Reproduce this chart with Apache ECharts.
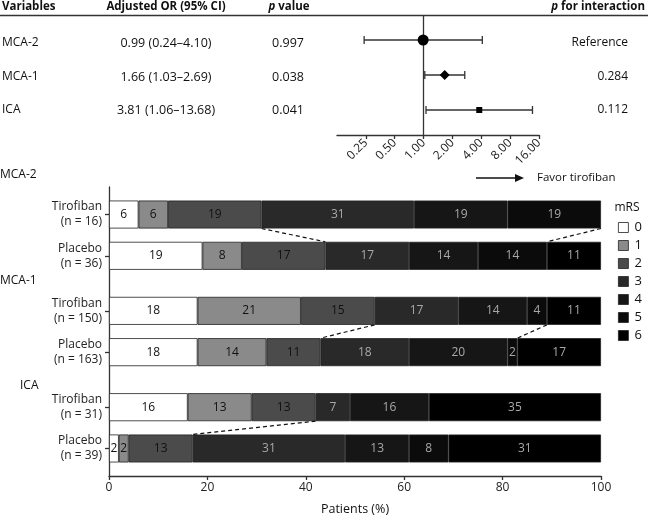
<!DOCTYPE html>
<html>
<head>
<meta charset="utf-8">
<script src="https://cdn.jsdelivr.net/npm/echarts@6/dist/echarts.min.js"></script>
<style>
html,body{margin:0;padding:0;background:#fff;}
#main{width:651px;height:521px;}
</style>
</head>
<body>
<div id="main"></div>
<script>
// ---------- Forest plot data ----------
const forestVars = ['MCA-2', 'MCA-1', 'ICA'];
const forestOR = [0.99, 1.66, 3.81];
const forestLo = [0.24, 1.03, 1.06];
const forestHi = [4.10, 2.69, 13.68];
const forestORText = ['0.99 (0.24–4.10)', '1.66 (1.03–2.69)', '3.81 (1.06–13.68)'];
const forestP = ['0.997', '0.038', '0.041'];
const forestPInter = ['Reference', '0.284', '0.112'];
const forestTicks = [0.25, 0.5, 1, 2, 4, 8, 16];

// ---------- Stacked bar data ----------
const groupNames = ['MCA-2', 'MCA-1', 'ICA'];
const barRows = ['Tirofiban\n(n = 16)', 'Placebo\n(n = 36)', 'Tirofiban\n(n = 150)', 'Placebo\n(n = 163)', 'Tirofiban\n(n = 31)', 'Placebo\n(n = 39)'];
const mrsNames = ['0', '1', '2', '3', '4', '5', '6'];
const mrs0 = [6, 19, 18, 18, 16, 2];
const mrs1 = [6, 8, 21, 14, 13, 2];
const mrs2 = [19, 17, 15, 11, 13, 13];
const mrs3 = [31, 17, 17, 18, 7, 31];
const mrs4 = [19, 14, 14, 20, 16, 13];
const mrs5 = [19, 14, 4, 2, 0, 8];
const mrs6 = [0, 11, 11, 17, 35, 31];
const xTicks = [0, 20, 40, 60, 80, 100];
// connectors: [tirofiban row, placebo row, type]
const connectors = [[0, 1, 'good'], [0, 1, 'alive'], [2, 3, 'good'], [2, 3, 'alive'], [4, 5, 'good']];

// ---------- layout / style ----------
const slotIndex = [2, 5, 9, 12, 16, 19];
const slotCount = 22;
const mrsColors = ['#ffffff', '#8a8a8a', '#4b4b4b', '#292929', '#161616', '#0b0b0b', '#000000'];
const mrsLabelColors = ['#111', '#111', '#111', '#a8a8a8', '#a8a8a8', '#a8a8a8', '#a8a8a8'];
const forestSymbols = ['circle', 'diamond', 'rect'];
const forestSizes = [11, 10, 6];
const FONT = '"Open Sans", sans-serif';
const BAR_W = 28;

const mrsAll = [mrs0, mrs1, mrs2, mrs3, mrs4, mrs5, mrs6];

const cats = new Array(slotCount).fill('');
barRows.forEach((r, i) => { cats[slotIndex[i]] = r; });

const barSeries = mrsAll.map((arr, k) => {
  const d = new Array(slotCount).fill('-');
  arr.forEach((v, i) => { d[slotIndex[i]] = v > 0 ? v : '-'; });
  return {
    name: mrsNames[k], type: 'bar', stack: 'mrs', xAxisIndex: 1, yAxisIndex: 1,
    barWidth: BAR_W, data: d,
    itemStyle: { color: mrsColors[k], borderColor: '#222', borderWidth: 0.8 },
    label: { show: true, position: 'inside', fontFamily: FONT, fontSize: 12, color: mrsLabelColors[k],
      formatter: p => (p.value > 0 ? String(p.value) : '') }
  };
});

const connData = connectors.map(c => {
  const a = c[0], b = c[1];
  const val = i => c[2] === 'good' ? (mrs0[i] + mrs1[i] + mrs2[i])
                                   : (mrs0[i] + mrs1[i] + mrs2[i] + mrs3[i] + mrs4[i] + mrs5[i]);
  return [val(a), val(b), slotIndex[a], slotIndex[b]];
});

const forestRows = forestVars.map((v, i) => i + 1);

const chart = echarts.init(document.getElementById('main'), null, { renderer: 'canvas' });

const HFONT = 'bold 11.5px ' + FONT;
const RFONT = '12.5px ' + FONT;
const HY = 7;
const graphics = [];
// header
graphics.push({ type: 'line', shape: { x1: 0, y1: 15.5, x2: 648, y2: 15.5 }, style: { stroke: '#333', lineWidth: 1.5 } });
graphics.push({ type: 'text', x: 2, y: HY, style: { text: 'Variables', font: HFONT, fill: '#111', textVerticalAlign: 'middle' } });
graphics.push({ type: 'text', x: 166, y: HY, style: { text: 'Adjusted OR (95% CI)', font: HFONT, fill: '#111', textAlign: 'center', textVerticalAlign: 'middle' } });
graphics.push({ type: 'text', x: 289, y: HY, style: { text: '{i|p} value', font: HFONT, fill: '#111', textAlign: 'center', textVerticalAlign: 'middle',
  rich: { i: { fontStyle: 'italic', fontWeight: 'bold', fontSize: 11.5, fontFamily: FONT } } } });
graphics.push({ type: 'text', x: 645, y: HY, style: { text: '{i|p} for interaction', font: HFONT, fill: '#111', textAlign: 'right', textVerticalAlign: 'middle',
  rich: { i: { fontStyle: 'italic', fontWeight: 'bold', fontSize: 11.5, fontFamily: FONT } } } });
const textRowsY = [43, 77, 110];
forestVars.forEach((v, i) => {
  const y = textRowsY[i];
  graphics.push({ type: 'text', x: 2, y: y, style: { text: v, font: '12px ' + FONT, fill: '#111', textVerticalAlign: 'middle' } });
  graphics.push({ type: 'text', x: 166, y: y, style: { text: forestORText[i], font: RFONT, fill: '#111', textAlign: 'center', textVerticalAlign: 'middle' } });
  graphics.push({ type: 'text', x: 288, y: y, style: { text: forestP[i], font: RFONT, fill: '#111', textAlign: 'center', textVerticalAlign: 'middle' } });
  graphics.push({ type: 'text', x: 628, y: y, style: { text: forestPInter[i], font: '12px ' + FONT, fill: '#111', textAlign: 'right', textVerticalAlign: 'middle' } });
});
// favor arrow
graphics.push({ type: 'line', shape: { x1: 476, y1: 178, x2: 516, y2: 178 }, style: { stroke: '#111', lineWidth: 1.3 } });
graphics.push({ type: 'polygon', shape: { points: [[515, 174], [524, 178], [515, 182]] }, style: { fill: '#111' } });
graphics.push({ type: 'text', x: 537, y: 178, style: { text: 'Favor tirofiban', font: '11.5px ' + FONT, fill: '#111', textVerticalAlign: 'middle' } });
// group labels
const groupPos = [[0, 175], [0, 281], [20, 386]];
groupNames.forEach((g, i) => {
  graphics.push({ type: 'text', x: groupPos[i][0], y: groupPos[i][1], style: { text: g, font: '12px ' + FONT, fill: '#111', textVerticalAlign: 'middle' } });
});
// legend title
graphics.push({ type: 'text', x: 627, y: 208, style: { text: 'mRS', font: '12px ' + FONT, fill: '#111', textAlign: 'center', textVerticalAlign: 'middle' } });

const option = {
  animation: false,
  backgroundColor: '#fff',
  textStyle: { fontFamily: FONT },
  grid: [
    { left: 337, top: 15, width: 202, height: 120 },
    { left: 109, top: 187, right: 50, bottom: 37 }
  ],
  legend: {
    data: mrsNames, orient: 'vertical', left: 613, top: 216,
    icon: 'rect', itemWidth: 10, itemHeight: 10, itemGap: 5,
    itemStyle: { borderColor: '#222', borderWidth: 0.8 },
    textStyle: { fontFamily: FONT, fontSize: 13, color: '#111', lineHeight: 13, padding: [0, 0, 0, 1] }
  },
  xAxis: [
    { type: 'log', logBase: 2, min: 0.125, max: 16, gridIndex: 0,
      axisLine: { show: true, lineStyle: { color: '#333', width: 1.3 } },
      axisTick: { show: true, customValues: forestTicks, length: 4, lineStyle: { color: '#333', width: 1.3 } },
      axisLabel: { customValues: forestTicks, rotate: 45, margin: 6, fontSize: 12, color: '#222', fontFamily: FONT,
        formatter: v => Number(v).toFixed(2) },
      splitLine: { show: false } },
    { type: 'value', min: 0, max: 100, interval: 20, gridIndex: 1,
      axisLine: { show: true, lineStyle: { color: '#333', width: 1.3 } },
      axisTick: { show: true, length: 4, lineStyle: { color: '#333', width: 1.3 } },
      axisLabel: { fontSize: 12, color: '#222', margin: 6, fontFamily: FONT },
      splitLine: { show: false },
      name: 'Patients (%)', nameLocation: 'middle', nameGap: 27,
      nameTextStyle: { fontSize: 12.5, color: '#111', fontFamily: FONT } }
  ],
  yAxis: [
    { type: 'value', gridIndex: 0, inverse: true, min: 1 - 25 / 35, max: 3 + 25 / 35, show: false },
    { type: 'category', gridIndex: 1, inverse: true, boundaryGap: false, data: cats,
      axisLine: { show: true, lineStyle: { color: '#333', width: 1.3 } },
      axisTick: { show: true, length: 4, interval: (idx, val) => val !== '', lineStyle: { color: '#333', width: 1.3 } },
      axisLabel: { interval: 0, fontSize: 12, lineHeight: 15, color: '#222', margin: 7, fontFamily: FONT },
      splitLine: { show: false } }
  ],
  series: [
    { type: 'custom', name: 'ci', xAxisIndex: 0, yAxisIndex: 0,
      encode: { x: [0, 1], y: 2 },
      data: forestVars.map((v, i) => [forestLo[i], forestHi[i], forestRows[i]]),
      renderItem: (params, api) => {
        const r = api.value(2);
        const p1 = api.coord([api.value(0), r]);
        const p2 = api.coord([api.value(1), r]);
        const st = { stroke: '#333', lineWidth: 1.3 };
        return { type: 'group', children: [
          { type: 'line', shape: { x1: p1[0], y1: p1[1], x2: p2[0], y2: p2[1] }, style: st },
          { type: 'line', shape: { x1: p1[0], y1: p1[1] - 4, x2: p1[0], y2: p1[1] + 4 }, style: st },
          { type: 'line', shape: { x1: p2[0], y1: p2[1] - 4, x2: p2[0], y2: p2[1] + 4 }, style: st }
        ] };
      }
    },
    { type: 'scatter', name: 'or', xAxisIndex: 0, yAxisIndex: 0, z: 5,
      data: forestVars.map((v, i) => ({ value: [forestOR[i], forestRows[i]], symbol: forestSymbols[i], symbolSize: forestSizes[i] })),
      itemStyle: { color: '#000', opacity: 1 },
      markLine: { silent: true, symbol: 'none', label: { show: false },
        lineStyle: { color: '#333', width: 1.3, type: 'solid' },
        data: [{ xAxis: 1 }] }
    },
    ...barSeries,
    { type: 'custom', name: 'conn', xAxisIndex: 1, yAxisIndex: 1, z: 10,
      encode: { x: [0, 1], y: [2, 3] },
      data: connData,
      renderItem: (params, api) => {
        const p1 = api.coord([api.value(0), api.value(2)]);
        const p2 = api.coord([api.value(1), api.value(3)]);
        return { type: 'line',
          shape: { x1: p1[0], y1: p1[1] + BAR_W / 2, x2: p2[0], y2: p2[1] - BAR_W / 2 },
          style: { stroke: '#111', lineWidth: 1.2, lineDash: [4, 3] } };
      }
    }
  ],
  graphic: graphics
};
chart.setOption(option);
</script>
</body>
</html>
